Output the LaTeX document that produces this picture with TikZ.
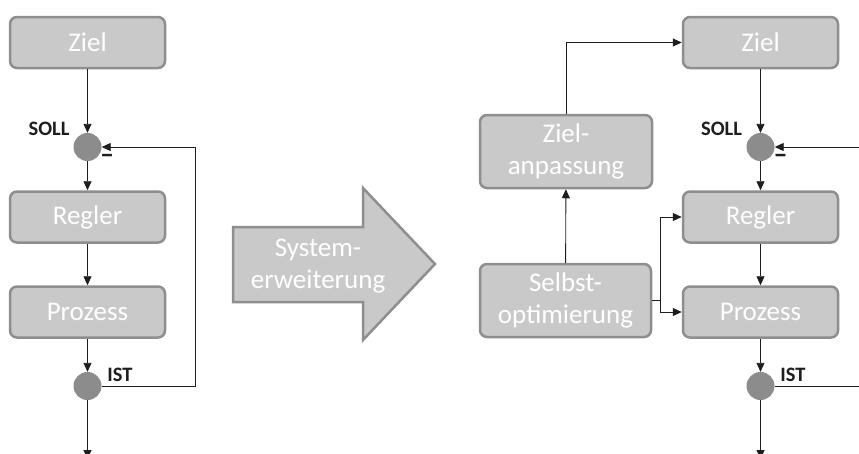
\documentclass[tikz,border=0pt]{standalone}
\usepackage{fontspec}
\setmainfont{Carlito}
\usetikzlibrary{arrows.meta}
\definecolor{boxfill}{HTML}{C9C9CA}
\definecolor{boxline}{HTML}{8E8E8E}
\definecolor{dotfill}{HTML}{8C8C8C}
\definecolor{linec}{HTML}{1E1E1E}
\tikzset{
  blk/.style={draw=boxline, fill=boxfill, line width=2.5pt, rounded corners=7pt,
    minimum width=155pt, minimum height=51pt, text=white, align=center,
    font=\fontsize{27}{32}\selectfont, inner sep=0pt},
  dot/.style={circle, fill=dotfill, minimum size=28pt, inner sep=0pt},
  lbl/.style={font=\fontsize{20.5}{24}\selectfont\bfseries, text=linec, inner sep=0pt},
  mns/.style={font=\fontsize{28}{28}\selectfont\bfseries, text=linec, inner sep=0pt},
  conn/.style={draw=linec, line width=0.9pt},
  arr/.style={conn, -{Triangle[length=9pt,width=8pt]}},
}
\begin{document}
\begin{tikzpicture}[x=1pt,y=-1pt]
\useasboundingbox (0,0) rectangle (859,453);
\clip (0,0) rectangle (859,453);
% ---------- left ----------
\node[blk] (ziel1) at (87.5,42.5) {Ziel};
\node[dot] (soll1) at (87.5,147) {};
\node[blk] (regler1) at (87.5,217) {Regler};
\node[blk] (proz1) at (87.5,312) {Prozess};
\node[dot] (ist1) at (87.5,386) {};
\node[lbl] (solll1) at (49,129) {SOLL};
\node[lbl] (istl1) at (120,375) {IST};
\node[mns] (minus1) at (107,159) {–};
\coordinate (fbr1) at (195,386);
\coordinate (fbt1) at (195,147);
\coordinate (out1) at (87.5,459);
\draw[arr] (ziel1) -- (soll1);
\draw[arr] (soll1) -- (regler1);
\draw[arr] (regler1) -- (proz1);
\draw[arr] (proz1) -- (ist1);
\draw[arr] (ist1) -- (out1);
\draw[conn] (ist1.east) -- (fbr1) -- (fbt1);
\draw[arr] (fbt1) -- (soll1.east);
% ---------- big arrow ----------
\draw[draw=boxline, fill=boxfill, line width=2.5pt, line join=miter]
  (233,227) -- (363,227) -- (363,188) -- (435,264) -- (363,340) -- (363,302) -- (233,302) -- cycle;
\node[text=white, align=center, font=\fontsize{27}{32}\selectfont, inner sep=0pt] (sysw) at (318,266) {System-\\erweiterung};
% ---------- right ----------
\node[blk] (ziel2) at (760.5,42.5) {Ziel};
\node[dot] (soll2) at (760.5,147) {};
\node[blk] (regler2) at (760.5,217) {Regler};
\node[blk] (proz2) at (760.5,312) {Prozess};
\node[dot] (ist2) at (760.5,386) {};
\node[lbl] (solll2) at (721.5,129) {SOLL};
\node[lbl] (istl2) at (793,375) {IST};
\node[mns] (minus2) at (780.5,159) {–};
\node[blk, minimum width=172pt, minimum height=73pt] (za) at (566,151.5) {Ziel-\\anpassung};
\node[blk, minimum width=171pt, minimum height=73pt] (so) at (565.5,300.5) {Selbst-\\optimierung};
\coordinate (fbr2) at (862,386);
\coordinate (fbt2) at (862,147);
\coordinate (out2) at (760.5,459);
\coordinate (j) at (660,300.5);
\draw[arr] (ziel2) -- (soll2);
\draw[arr] (soll2) -- (regler2);
\draw[arr] (regler2) -- (proz2);
\draw[arr] (proz2) -- (ist2);
\draw[arr] (ist2) -- (out2);
\draw[conn] (ist2.east) -- (fbr2);
\draw[arr] (fbt2) -- (soll2.east);
\draw[arr] (so) -- (za);
\draw[arr] (za.north) |- (ziel2.west);
\draw[conn] (so.east) -- (j);
\draw[arr] (j) |- (regler2.west);
\draw[arr] (j) |- (proz2.west);
\end{tikzpicture}
\end{document}
